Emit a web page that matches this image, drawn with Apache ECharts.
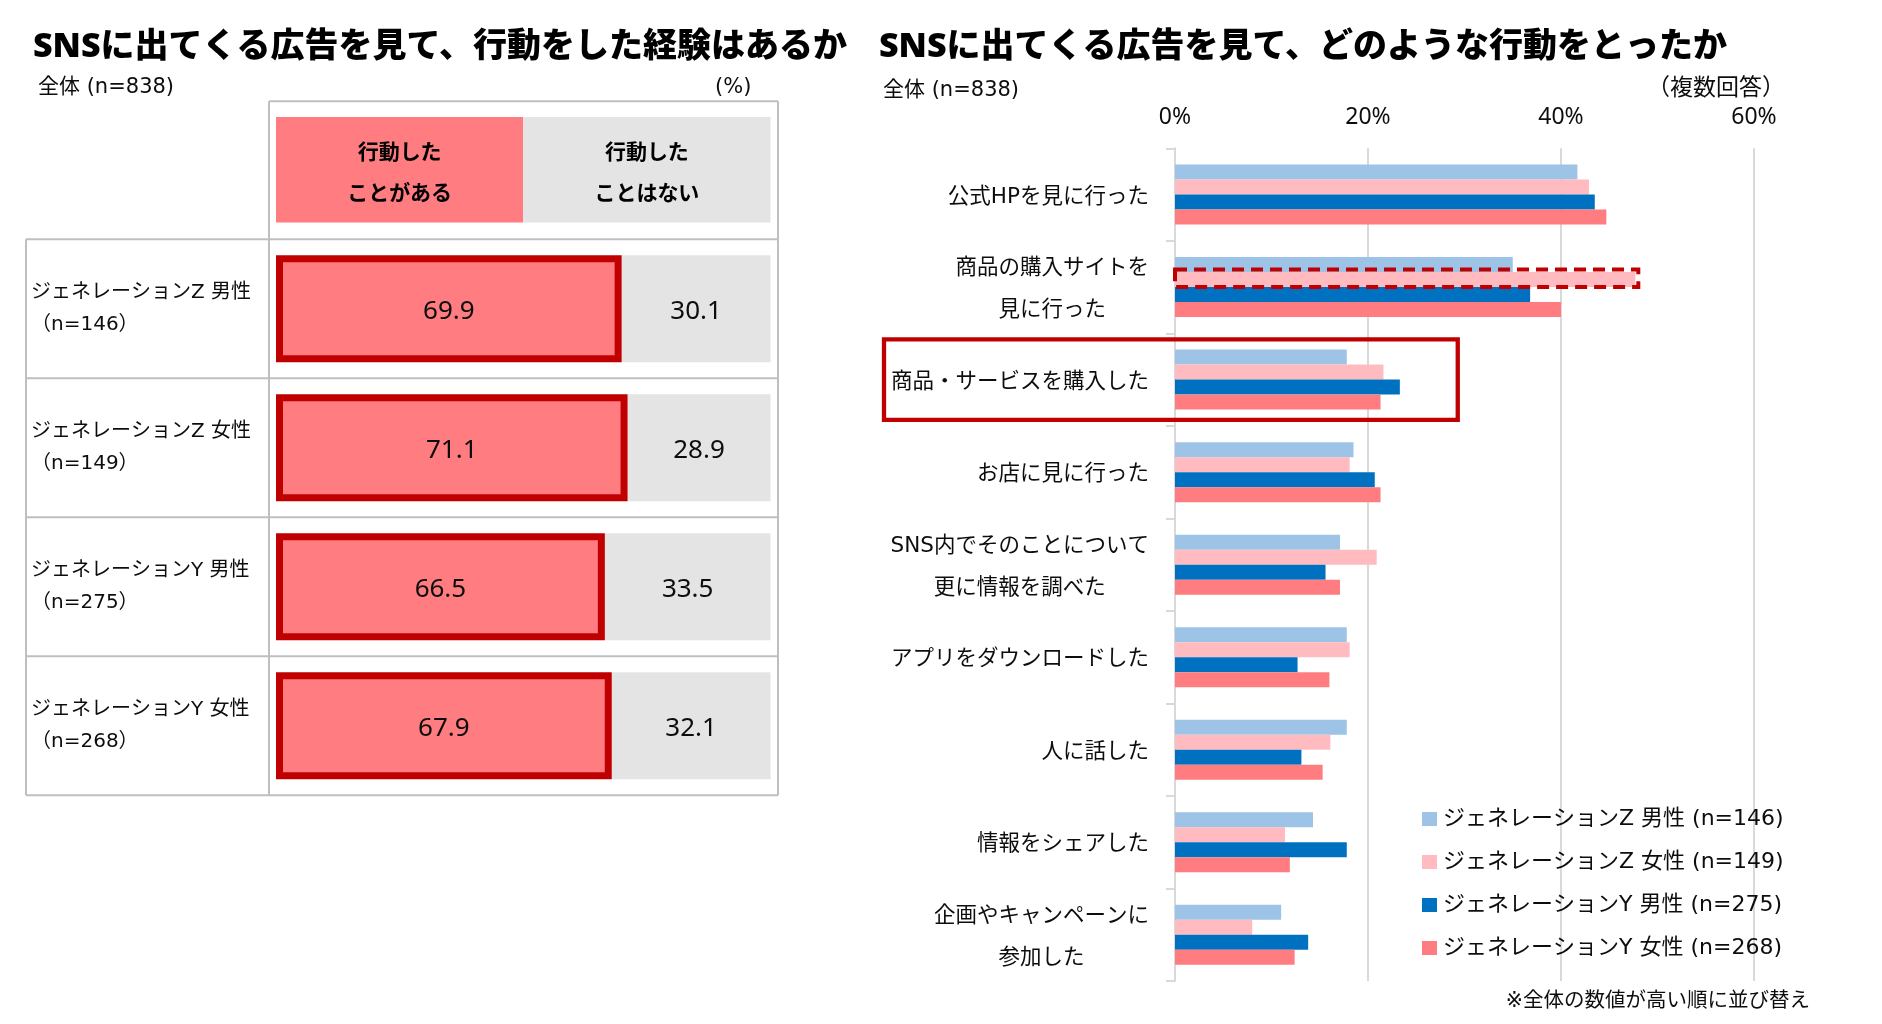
<!DOCTYPE html>
<html><head><meta charset="utf-8">
<script src="https://cdn.jsdelivr.net/npm/echarts@6/dist/echarts.min.js"></script>
<style>html,body{margin:0;padding:0;background:#fff}#c{width:1882px;height:1024px}</style>
</head><body><div id="c"></div>
<script>
const FONT = "'Noto Sans', 'Noto Sans CJK JP', sans-serif";
const FONT_S = "'DejaVu Sans', 'Noto Sans CJK JP', sans-serif";

// ---- Left table data ----
const groupNames = ['ジェネレーションZ 男性', 'ジェネレーションZ 女性', 'ジェネレーションY 男性', 'ジェネレーションY 女性'];
const groupN = [146, 149, 275, 268];
const actedYes = [69.9, 71.1, 66.5, 67.9];
const actedNo = [30.1, 28.9, 33.5, 32.1];
const tableHeaders = ['行動した\nことがある', '行動した\nことはない'];

// ---- Right chart data ----
const actions = [
  '公式HPを見に行った',
  '商品の購入サイトを\n見に行った',
  '商品・サービスを購入した',
  'お店に見に行った',
  'SNS内でそのことについて\n更に情報を調べた',
  'アプリをダウンロードした',
  '人に話した',
  '情報をシェアした',
  '企画やキャンペーンに\n参加した'
];
const genZMale   = [41.7, 35.0, 17.8, 18.5, 17.1, 17.8, 17.8, 14.3, 11.0];
const genZFemale = [42.9, 47.7, 21.6, 18.1, 20.9, 18.1, 16.1, 11.4, 8.0];
const genYMale   = [43.5, 36.8, 23.3, 20.7, 15.6, 12.7, 13.1, 17.8, 13.8];
const genYFemale = [44.7, 40.0, 21.3, 21.3, 17.1, 16.0, 15.3, 11.9, 12.4];
const seriesNames = ['ジェネレーションZ 男性 (n=146)', 'ジェネレーションZ 女性 (n=149)', 'ジェネレーションY 男性 (n=275)', 'ジェネレーションY 女性 (n=268)'];
const seriesColors = ['#9DC3E6', '#FFBBBF', '#0070C0', '#FF7C80'];
const pctAxis = { min: 0, max: 60, interval: 20 };

const chart = echarts.init(document.getElementById('c'), null, { renderer: 'canvas' });

const TXT = '#0d0d0d';
const subStyle = { fontFamily: FONT_S, fontSize: 21, fontWeight: 'normal', color: TXT };
const option = {
  animation: false,
  backgroundColor: '#ffffff',
  textStyle: { fontFamily: FONT_S },
  title: [
    { text: 'SNSに出てくる広告を見て、行動をした経験はあるか', left: 33, top: 30, padding: 0,
      textStyle: { fontFamily: FONT, fontSize: 34, fontWeight: 900, color: '#000' } },
    { text: 'SNSに出てくる広告を見て、どのような行動をとったか', left: 879, top: 30, padding: 0,
      textStyle: { fontFamily: FONT, fontSize: 34, fontWeight: 900, color: '#000' } },
    { text: '全体 (n=838)', left: 38, top: 77, padding: 0, textStyle: subStyle },
    { text: '(%)', left: 715, top: 77, padding: 0, textStyle: subStyle },
    { text: '全体 (n=838)', left: 883, top: 80, padding: 0, textStyle: subStyle },
    { text: '（複数回答）', left: 1647, top: 78, padding: 0, textStyle: Object.assign({}, subStyle, { fontSize: 23 }) },
    { text: '※全体の数値が高い順に並び替え', right: 72, top: 991, padding: 0, textStyle: Object.assign({}, subStyle, { fontSize: 20.5 }) }
  ],
  legend: {
    orient: 'vertical', left: 1422, top: 807, padding: 0,
    itemWidth: 15, itemHeight: 14, itemGap: 19, icon: 'rect',
    data: seriesNames,
    textStyle: { fontFamily: FONT_S, fontSize: 22, lineHeight: 24, color: TXT, padding: [0, 0, 0, 1] }
  },
  grid: [
    { left: 276, right: 1111.5, top: 239.3, bottom: 228.7, outerBoundsMode: 'none', containLabel: false },
    { left: 1175, right: 128, top: 148.3, bottom: 43, outerBoundsMode: 'none', containLabel: false }
  ],
  xAxis: [
    { gridIndex: 0, type: 'value', min: 0, max: 100, show: false },
    { gridIndex: 1, type: 'value', position: 'top', min: pctAxis.min, max: pctAxis.max, interval: pctAxis.interval,
      axisLine: { show: false }, axisTick: { show: false },
      axisLabel: { formatter: '{value}%', margin: 19, fontFamily: FONT, fontSize: 23, color: TXT },
      splitLine: { show: true, lineStyle: { color: '#D9D9D9', width: 2 } } }
  ],
  yAxis: [
    { gridIndex: 0, type: 'category', inverse: true, data: groupNames,
      axisLine: { show: false }, axisTick: { show: false }, splitLine: { show: false },
      axisLabel: { interval: 0, align: 'left', margin: 245, fontFamily: FONT_S, fontSize: 20, lineHeight: 32, color: TXT,
        padding: [5, 0, 0, 0],
        formatter: (v, i) => v + '\n（n=' + groupN[i] + '）' } },
    { gridIndex: 1, type: 'category', inverse: true, data: actions,
      axisLine: { show: true, lineStyle: { color: '#D9D9D9', width: 2 } },
      axisTick: { show: true, length: 9, lineStyle: { color: '#D9D9D9', width: 2 } },
      splitLine: { show: false },
      axisLabel: { interval: 0, margin: 26, align: 'right', color: TXT, fontFamily: FONT_S, fontSize: 21.5, lineHeight: 42,
        padding: [5, 0, 0, 0],
        formatter: v => v.split('\n').map(l => '{c|' + l + '}').join('\n'),
        rich: { c: { align: 'center', fontFamily: FONT_S, fontSize: 21.5, lineHeight: 42, color: TXT } } } }
  ],
  series: [
    { name: '行動したことがある', type: 'bar', xAxisIndex: 0, yAxisIndex: 0, stack: 'tbl', barWidth: 107, z: 3,
      data: actedYes,
      itemStyle: { color: '#FF7C80', borderColor: '#C00000', borderWidth: 7 },
      label: { show: true, position: 'inside', offset: [0, 2.5], fontFamily: FONT, fontSize: 26, color: TXT, formatter: p => p.value.toFixed(1) } },
    { name: '行動したことはない', type: 'bar', xAxisIndex: 0, yAxisIndex: 0, stack: 'tbl', barWidth: 107, z: 2,
      data: actedNo,
      itemStyle: { color: '#E4E4E4' },
      label: { show: true, position: 'inside', offset: [0, 2.5], fontFamily: FONT, fontSize: 26, color: TXT, formatter: p => p.value.toFixed(1) } },
    { name: seriesNames[0], type: 'bar', xAxisIndex: 1, yAxisIndex: 1, barWidth: 15, barGap: '0%', data: genZMale, itemStyle: { color: seriesColors[0] } },
    { name: seriesNames[1], type: 'bar', xAxisIndex: 1, yAxisIndex: 1, barWidth: 15, barGap: '0%', data: genZFemale, itemStyle: { color: seriesColors[1] } },
    { name: seriesNames[2], type: 'bar', xAxisIndex: 1, yAxisIndex: 1, barWidth: 15, barGap: '0%', data: genYMale, itemStyle: { color: seriesColors[2] } },
    { name: seriesNames[3], type: 'bar', xAxisIndex: 1, yAxisIndex: 1, barWidth: 15, barGap: '0%', data: genYFemale, itemStyle: { color: seriesColors[3] } }
  ]
};
chart.setOption(option);

// ---- decorations computed from the chart's own scales ----
const px = (g, v, c) => chart.convertToPixel({ xAxisIndex: g, yAxisIndex: g }, [v, c]);
const gfx = [];
const lineCol = '#BFBFBF';
const L = (x1, y1, x2, y2) => gfx.push({ type: 'line', shape: { x1, y1, x2, y2 }, style: { stroke: lineCol, lineWidth: 2 }, z: 1, silent: true });

// left table frame
const a0 = px(0, 0, 0), a50 = px(0, 50, 0), a100 = px(0, 100, 0), a1 = px(0, 0, 1);
const band = a1[1] - a0[1];
const tTop = a0[1] - band / 2;
const tBottom = tTop + band * groupNames.length;
const colSep = a0[0] - 7, frameRight = a100[0] + 7.5, frameLeft = 26, headTop = tTop - 138;
L(colSep, headTop, frameRight, headTop);
L(colSep, headTop, colSep, tBottom);
L(frameRight, headTop, frameRight, tBottom);
L(frameLeft, tTop, frameLeft, tBottom);
for (let i = 0; i <= groupNames.length; i++) L(frameLeft, tTop + band * i, frameRight, tTop + band * i);
// header cells
const hTop = headTop + 15.7, hH = 105.6;
[[a0[0], a50[0], '#FF7C80'], [a50[0], a100[0], '#E4E4E4']].forEach((c, i) => {
  gfx.push({ type: 'rect', shape: { x: c[0], y: hTop, width: c[1] - c[0], height: hH }, style: { fill: c[2] }, z: 1, silent: true });
  gfx.push({ type: 'text', x: (c[0] + c[1]) / 2, y: hTop + hH / 2 + 3.5, z: 2, silent: true,
    style: { text: tableHeaders[i], fontFamily: FONT, fontSize: 21, fontWeight: 'bold', lineHeight: 41, fill: '#000', align: 'center', verticalAlign: 'middle' } });
});

// right chart annotation boxes
try {
  const lay = chart.getModel().getSeriesByIndex(3).getData().getItemLayout(1);
  const bx = Math.min(lay.x, lay.x + lay.width), bw = Math.abs(lay.width);
  const by = Math.min(lay.y, lay.y + lay.height), bh = Math.abs(lay.height);
  gfx.push({ type: 'rect', shape: { x: bx, y: by - 2.5, width: bw + 3, height: bh + 2.5 },
    style: { fill: null, stroke: '#C00000', lineWidth: 4, lineDash: [12, 7] }, z: 10, silent: true });
} catch (e) {}
const c2 = px(1, 0, 2), c3 = px(1, 0, 3);
const band2 = c3[1] - c2[1];
const boxRight = px(1, 29.3, 2)[0];
gfx.push({ type: 'rect', shape: { x: c2[0] - 291, y: c2[1] - band2 / 2 + 6, width: boxRight - (c2[0] - 291), height: band2 - 12 },
  style: { fill: null, stroke: '#C00000', lineWidth: 4.3 }, z: 10, silent: true });

chart.setOption({ graphic: gfx });
</script></body></html>
